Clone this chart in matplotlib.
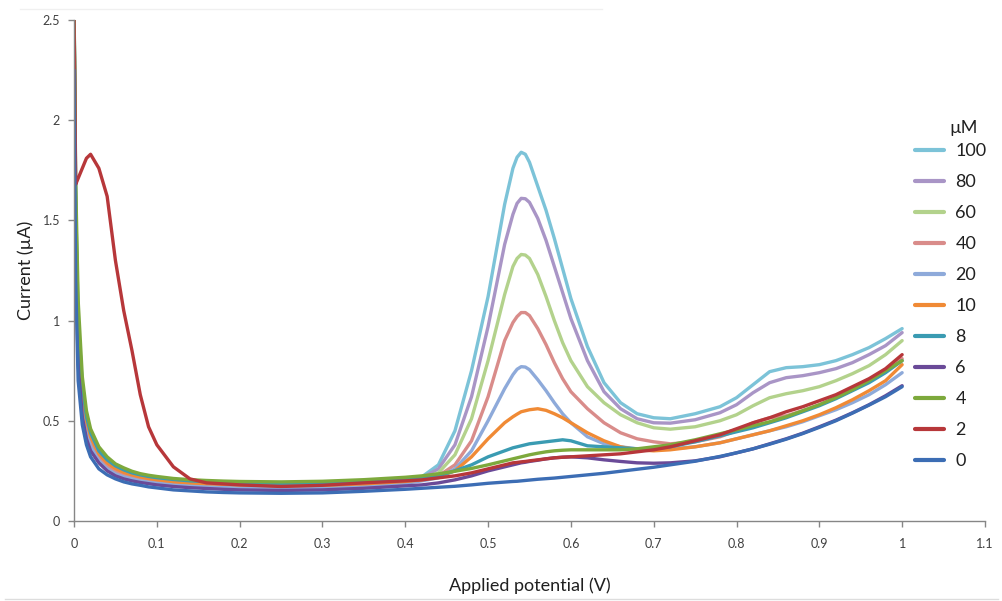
import matplotlib
matplotlib.use("Agg")
import matplotlib.pyplot as plt
from matplotlib.lines import Line2D

plt.rcParams["font.family"] = ["Lato", "DejaVu Sans"]

# ── Data ─────────────────────────────────────────────────────────────────────
potential = [0, 0.002, 0.005, 0.01, 0.015, 0.02, 0.03, 0.04, 0.05, 0.06, 0.07,
             0.08, 0.09, 0.10, 0.12, 0.14, 0.16, 0.18, 0.20, 0.25, 0.30, 0.35,
             0.40, 0.42, 0.44, 0.46, 0.48, 0.50, 0.52,
             0.53, 0.535, 0.54, 0.545, 0.55, 0.56, 0.57, 0.58, 0.59, 0.60,
             0.62, 0.64, 0.66, 0.68, 0.70, 0.72, 0.75, 0.78, 0.80,
             0.82, 0.84, 0.86, 0.88, 0.90, 0.92, 0.94, 0.96, 0.98, 1.00]

i_100 = [2.6, 1.5, 0.92, 0.61, 0.48, 0.4, 0.32, 0.28, 0.253, 0.235, 0.222,
         0.212, 0.205, 0.199, 0.19, 0.184, 0.18, 0.177, 0.175, 0.173, 0.175, 0.183,
         0.2, 0.22, 0.28, 0.45, 0.75, 1.12, 1.58,
         1.76, 1.815, 1.84, 1.83, 1.79, 1.67, 1.55, 1.41, 1.26, 1.11,
         0.87, 0.69, 0.59, 0.535, 0.515, 0.51, 0.535, 0.57, 0.615,
         0.68, 0.745, 0.765, 0.77, 0.78, 0.80, 0.83, 0.865, 0.91, 0.96]
i_80 = [2.6, 1.4, 0.86, 0.57, 0.45, 0.38, 0.31, 0.27, 0.245, 0.228, 0.216,
        0.206, 0.199, 0.193, 0.185, 0.179, 0.175, 0.172, 0.17, 0.168, 0.17, 0.178,
        0.195, 0.215, 0.26, 0.38, 0.62, 0.97, 1.38,
        1.53, 1.585, 1.61, 1.608, 1.59, 1.51, 1.40, 1.27, 1.14, 1.01,
        0.80, 0.645, 0.56, 0.51, 0.49, 0.488, 0.505, 0.54, 0.58,
        0.64, 0.69, 0.715, 0.725, 0.74, 0.76, 0.79, 0.83, 0.875, 0.94]
i_60 = [2.6, 1.55, 0.95, 0.63, 0.49, 0.41, 0.33, 0.29, 0.26, 0.24, 0.228,
        0.218, 0.21, 0.204, 0.195, 0.189, 0.185, 0.182, 0.18, 0.178, 0.18, 0.188,
        0.2, 0.21, 0.24, 0.33, 0.51, 0.80, 1.13,
        1.27, 1.31, 1.33, 1.327, 1.31, 1.23, 1.12, 1.0, 0.89, 0.80,
        0.67, 0.59, 0.53, 0.49, 0.465, 0.458, 0.47, 0.50, 0.53,
        0.575, 0.615, 0.635, 0.65, 0.67, 0.70, 0.735, 0.775, 0.83, 0.90]
i_40 = [2.6, 1.45, 0.9, 0.6, 0.47, 0.4, 0.32, 0.28, 0.25, 0.232, 0.22,
        0.21, 0.203, 0.197, 0.188, 0.182, 0.178, 0.175, 0.173, 0.171, 0.173, 0.181,
        0.195, 0.205, 0.225, 0.28, 0.40, 0.62, 0.90,
        0.99, 1.02, 1.04, 1.04, 1.025, 0.96, 0.88, 0.79, 0.71, 0.645,
        0.56, 0.49, 0.44, 0.41, 0.395, 0.385, 0.395, 0.42, 0.45,
        0.49, 0.515, 0.525, 0.55, 0.58, 0.615, 0.655, 0.70, 0.75, 0.81]
i_20 = [2.6, 1.4, 0.85, 0.56, 0.44, 0.37, 0.3, 0.26, 0.235, 0.22, 0.21,
        0.2, 0.193, 0.188, 0.18, 0.175, 0.172, 0.17, 0.168, 0.166, 0.168, 0.175,
        0.188, 0.2, 0.215, 0.26, 0.35, 0.50, 0.66,
        0.73, 0.757, 0.77, 0.768, 0.755, 0.705, 0.65, 0.59, 0.535, 0.49,
        0.42, 0.385, 0.37, 0.36, 0.355, 0.36, 0.37, 0.39, 0.41,
        0.43, 0.45, 0.47, 0.495, 0.525, 0.555, 0.59, 0.63, 0.68, 0.74]
i_10 = [2.6, 1.5, 0.95, 0.64, 0.5, 0.42, 0.335, 0.29, 0.262, 0.243, 0.23,
        0.22, 0.212, 0.206, 0.196, 0.19, 0.186, 0.183, 0.18, 0.176, 0.178, 0.185,
        0.197, 0.205, 0.22, 0.25, 0.32, 0.41, 0.49,
        0.52, 0.533, 0.545, 0.55, 0.555, 0.56, 0.552, 0.535, 0.515, 0.49,
        0.44, 0.40, 0.37, 0.355, 0.35, 0.355, 0.37, 0.39, 0.41,
        0.43, 0.45, 0.475, 0.50, 0.53, 0.565, 0.605, 0.65, 0.70, 0.78]
i_8 = [2.6, 1.6, 1.0, 0.68, 0.52, 0.44, 0.35, 0.305, 0.275, 0.255, 0.24,
       0.23, 0.222, 0.216, 0.207, 0.2, 0.196, 0.193, 0.19, 0.188, 0.19, 0.198,
       0.21, 0.215, 0.225, 0.25, 0.28, 0.32, 0.35,
       0.365, 0.37, 0.375, 0.38, 0.385, 0.39, 0.395, 0.40, 0.405, 0.40,
       0.375, 0.37, 0.365, 0.36, 0.36, 0.37, 0.395, 0.425, 0.445,
       0.465, 0.49, 0.515, 0.545, 0.575, 0.61, 0.65, 0.69, 0.74, 0.80]
i_6 = [2.5, 1.3, 0.78, 0.52, 0.41, 0.35, 0.29, 0.25, 0.225, 0.21, 0.2,
       0.192, 0.186, 0.18, 0.172, 0.166, 0.162, 0.158, 0.155, 0.152, 0.155, 0.163,
       0.175, 0.18, 0.19, 0.205, 0.225, 0.25, 0.27,
       0.28, 0.285, 0.29, 0.293, 0.297, 0.303, 0.31, 0.315, 0.318, 0.32,
       0.315, 0.305, 0.297, 0.29, 0.288, 0.29, 0.30, 0.32, 0.34,
       0.36, 0.385, 0.41, 0.438, 0.47, 0.503, 0.54, 0.58, 0.625, 0.675]
i_4 = [2.6, 1.7, 1.1, 0.72, 0.55, 0.46, 0.37, 0.32, 0.285, 0.265, 0.248,
       0.236, 0.228, 0.222, 0.212, 0.206, 0.202, 0.199, 0.197, 0.195, 0.198, 0.206,
       0.218, 0.225, 0.235, 0.248, 0.262, 0.28, 0.3,
       0.31, 0.315, 0.32, 0.325, 0.33, 0.338, 0.345, 0.35, 0.353, 0.355,
       0.355, 0.355, 0.355, 0.36, 0.37, 0.38, 0.405, 0.435, 0.455,
       0.475, 0.495, 0.52, 0.55, 0.58, 0.615, 0.655, 0.70, 0.75, 0.80]
i_2 = [2.5, 1.68, 1.71, 1.76, 1.81, 1.83, 1.76, 1.62, 1.30, 1.05, 0.85,
       0.63, 0.47, 0.38, 0.27, 0.21, 0.19, 0.185, 0.18, 0.172, 0.178, 0.19,
       0.20, 0.205, 0.215, 0.225, 0.24, 0.26, 0.28,
       0.29, 0.292, 0.295, 0.297, 0.3, 0.305, 0.31, 0.315, 0.318, 0.32,
       0.325, 0.33, 0.335, 0.345, 0.355, 0.37, 0.40, 0.43, 0.46,
       0.49, 0.515, 0.545, 0.57, 0.60, 0.63, 0.67, 0.71, 0.76, 0.83]
i_0 = [2.25, 1.2, 0.7, 0.48, 0.38, 0.32, 0.26, 0.23, 0.21, 0.195, 0.185,
       0.178, 0.17, 0.165, 0.155, 0.15, 0.145, 0.142, 0.14, 0.138, 0.14, 0.148,
       0.158, 0.163, 0.168, 0.173, 0.18, 0.188, 0.194,
       0.197, 0.198, 0.2, 0.202, 0.204, 0.208, 0.211, 0.214, 0.218, 0.222,
       0.23, 0.238, 0.248, 0.258, 0.268, 0.28, 0.298, 0.322, 0.34,
       0.36, 0.383, 0.408, 0.436, 0.467, 0.5, 0.538, 0.578, 0.62, 0.67]

labels = ["100", "80", "60", "40", "20", "10", "8", "6", "4", "2", "0"]
currents = [i_100, i_80, i_60, i_40, i_20, i_10, i_8, i_6, i_4, i_2, i_0]
colors = ["#7cc3d8", "#a995c6", "#b3d28c", "#d98c8a", "#8eaada", "#f08a35",
          "#3a9bb2", "#6a4a98", "#7da93c", "#b7373a", "#3c6db4"]

x_ticks = [0, 0.1, 0.2, 0.3, 0.4, 0.5, 0.6, 0.7, 0.8, 0.9, 1.0, 1.1]
x_ticklabels = ["0", "0.1", "0.2", "0.3", "0.4", "0.5", "0.6", "0.7", "0.8", "0.9", "1", "1.1"]
y_ticks = [0, 0.5, 1.0, 1.5, 2.0, 2.5]
y_ticklabels = ["0", "0.5", "1", "1.5", "2", "2.5"]

# ── Figure ──────────────────────────────────────────────────────────────────
fig = plt.figure(figsize=(10.03, 6.01), dpi=100, facecolor="white")
ax = fig.add_axes([0.0738, 0.1332, 0.9082, 0.8335])

for y, lab, col in zip(currents, labels, colors):
    ax.plot(potential, y, color=col, linewidth=2.4, label=lab,
            solid_joinstyle="round", solid_capstyle="round")

ax.set_xlim(0, 1.1)
ax.set_ylim(0, 2.5)
ax.set_xticks(x_ticks)
ax.set_xticklabels(x_ticklabels)
ax.set_yticks(y_ticks)
ax.set_yticklabels(y_ticklabels)

SPINE = "#868686"
for side in ("top", "right"):
    ax.spines[side].set_visible(False)
for side in ("left", "bottom"):
    ax.spines[side].set_color(SPINE)
    ax.spines[side].set_linewidth(1.0)
ax.tick_params(axis="both", colors=SPINE, labelcolor="#404040",
               labelsize=9, length=4, width=1.0, direction="out")
ax.tick_params(axis="x", pad=8)
ax.tick_params(axis="y", pad=6)

ax.set_ylabel("Current (µA)", fontsize=13, color="#202020", labelpad=6)
ax.set_xlabel("Applied potential (V)", fontsize=13, color="#202020", labelpad=20,
              bbox=dict(facecolor="white", edgecolor="none", pad=2))

leg = ax.legend(loc="upper left", bbox_to_anchor=(0.912, 0.762),
                bbox_transform=fig.transFigure, frameon=False, fontsize=13,
                handlelength=1.6, handletextpad=0.65, labelspacing=0.83,
                borderpad=0, borderaxespad=0)
for line in leg.get_lines():
    line.set_linewidth(3.0)
for t in leg.get_texts():
    t.set_color("#202020")
fig.text(0.947, 0.779, "µM", fontsize=13, color="#202020", ha="left", va="baseline")

# faint frame lines of the original screenshot
fig.add_artist(Line2D([0.005, 0.995], [0.004, 0.004], color="#dddddd", linewidth=1,
                      zorder=0))
fig.add_artist(Line2D([0.02, 0.60], [0.985, 0.985], color="#f0f0f0", linewidth=1,
                      zorder=0))

fig.savefig("out.png", dpi=100, facecolor="white")
